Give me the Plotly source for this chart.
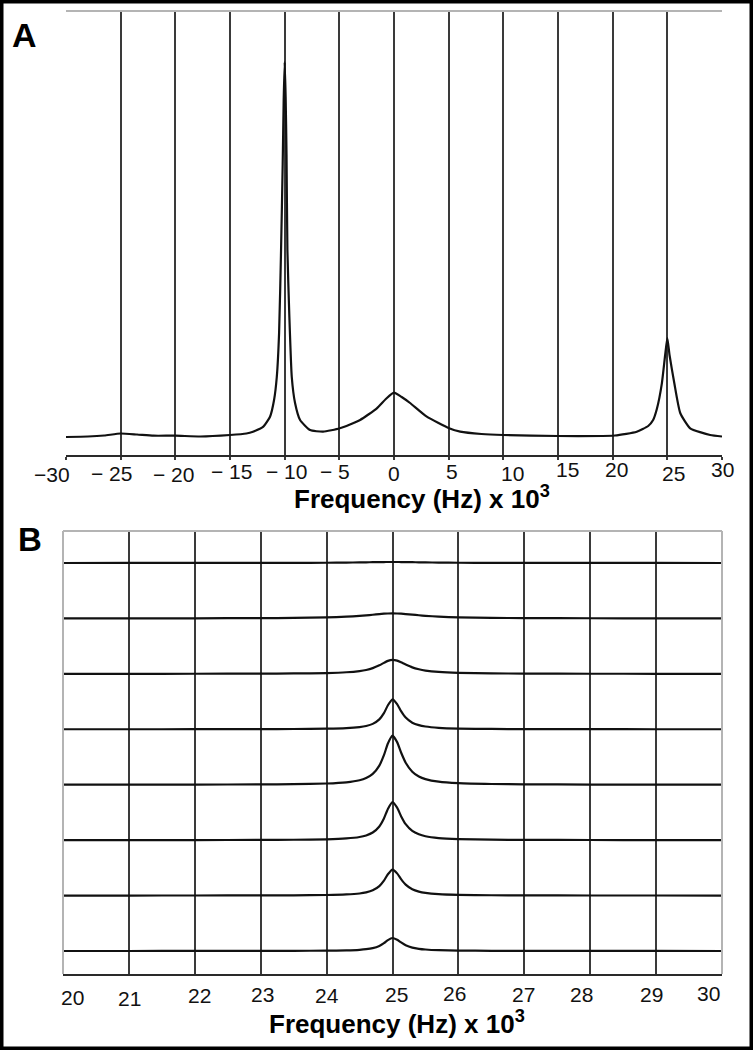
import plotly.graph_objects as go

# ---------------- Panel A: full spectrum ----------------
freq_a = [-30, -28, -26.5, -25, -23.5, -22, -20, -17.7, -15, -13.5, -12.9, -11.95, -11.34,
          -10.97, -10.72, -10.51, -10.33, -10.18, -10.09, -10.0, -9.91, -9.83, -9.75, -9.57,
          -9.35, -9.05, -8.59, -7.68, -6.49, -4.96, -3.1, -1.57, -0.7, 0, 0.7, 1.47, 3.0,
          5.04, 6.05, 8, 10, 15, 20.2, 22.2, 23.25, 23.7, 24.04, 24.5, 24.8, 25, 25.2, 25.64,
          26.18, 27.09, 28.92, 30]
inten_a = [18, 18.5, 19.5, 21.5, 20.5, 19.3, 19.3, 18.5, 20, 21.5, 23.3, 28.3, 38.3,
           55, 78, 122, 205, 291, 355, 393, 358, 300, 205, 138,
           78, 52, 35, 25, 23.3, 26.7, 35, 46.7, 56.5, 62.3, 58, 52, 38.3,
           26.7, 23.3, 21, 20, 19, 19.5, 23.3, 29, 35, 46, 71.7, 100, 117, 100, 71.7,
           42, 26.7, 20, 18.5]

ticks_a = [-30, -25, -20, -15, -10, -5, 0, 5, 10, 15, 20, 25, 30]
ticktext_a = ["\u221230", "\u2212 25", "\u2212 20", "\u2212 15", "\u2212 10", "\u2212 5",
              "0", "5", "10", "15", "20", "25", "30"]

# ---------------- Panel B: zoom on the 25 kHz line, 8 spectra ----------------
freq_b = [20, 21, 22, 23, 23.5, 24, 24.3, 24.5, 24.6, 24.7, 24.8, 24.87, 24.93, 25,
          25.07, 25.13, 25.2, 25.3, 25.4, 25.5, 25.7, 26, 26.5, 27, 28, 29, 30]
spec_b1 = [0.01, 0.02, 0.04, 0.08, 0.14, 0.26, 0.42, 0.59, 0.69, 0.8, 0.9, 0.95, 0.99, 1,
           0.99, 0.95, 0.9, 0.8, 0.69, 0.59, 0.42, 0.26, 0.14, 0.08, 0.04, 0.02, 0.01]
spec_b2 = [0.05, 0.08, 0.14, 0.29, 0.5, 1, 1.7, 2.5, 3.05, 3.7, 4.3, 4.7, 4.9, 5,
           4.9, 4.7, 4.35, 3.8, 3.15, 2.6, 1.8, 1.05, 0.55, 0.32, 0.15, 0.09, 0.06]
spec_b3 = [0.03, 0.05, 0.1, 0.22, 0.38, 0.82, 1.6, 2.8, 3.9, 5.7, 8.5, 11, 13, 14,
           13.2, 11.5, 9.3, 6.5, 4.6, 3.3, 1.9, 1.0, 0.47, 0.27, 0.12, 0.07, 0.04]
spec_b4 = [0.02, 0.03, 0.07, 0.15, 0.26, 0.58, 1.15, 2.2, 3.3, 5.4, 9.9, 16.1, 24, 30,
           25.2, 18.1, 11.7, 6.6, 4.1, 2.8, 1.5, 0.73, 0.33, 0.19, 0.08, 0.05, 0.03]
spec_b5 = [0.05, 0.08, 0.14, 0.31, 0.55, 1.2, 2.4, 4.5, 6.8, 10.8, 19.1, 29.5, 41.2, 49,
           42.6, 32.2, 22, 13, 8.2, 5.6, 3, 1.5, 0.7, 0.4, 0.17, 0.1, 0.06]
spec_b6 = [0.03, 0.05, 0.1, 0.21, 0.38, 0.84, 1.67, 3.1, 4.7, 7.6, 13.7, 21.7, 31.2, 38,
           32.5, 24, 16, 9.2, 5.8, 3.9, 2.1, 1.07, 0.48, 0.27, 0.12, 0.07, 0.04]
spec_b7 = [0.02, 0.03, 0.07, 0.15, 0.26, 0.57, 1.14, 2.1, 3.2, 5.2, 9.4, 14.9, 21.3, 26,
           22.2, 16.4, 10.9, 6.3, 4, 2.7, 1.45, 0.73, 0.33, 0.18, 0.08, 0.05, 0.03]
spec_b8 = [0.01, 0.02, 0.04, 0.08, 0.15, 0.33, 0.65, 1.2, 1.8, 2.9, 5.1, 7.8, 10.9, 13,
           11.3, 8.6, 5.8, 3.4, 2.2, 1.5, 0.8, 0.41, 0.18, 0.1, 0.05, 0.03, 0.02]
spectra_b = [spec_b1, spec_b2, spec_b3, spec_b4, spec_b5, spec_b6, spec_b7, spec_b8]

ticks_b = [20, 21, 22, 23, 24, 25, 26, 27, 28, 29, 30]
ticktext_b = [str(t) for t in ticks_b]

# ---------------- Styling (label placement offsets in pixels, as in the figure) ----------------
W, H = 753, 1050
FONT = "Liberation Sans, Arial, Helvetica, sans-serif"
GRID = "#3a3a3a"
LIGHT = "#b4b4b4"
CURVE = "#111111"
label_dx_a = [-14, -9, -2, 1, 2, -4, 0, 3, 9, 9, 4, 6, 0]
label_y_a = [475, 473, 475, 471, 471, 471, 473, 471, 473, 470, 470, 473, 469]
label_dx_b = [9, 1, 5, 2, 0, 3.5, -4, -1, -9, -5, -14]
label_y_b = [997, 998, 995, 994, 995, 994, 993, 994, 994, 994, 993]


def px_x(p):
    return p / W


def px_y(p):
    return 1 - p / H


fig = go.Figure()

fig.add_trace(go.Scatter(x=freq_a, y=inten_a, mode="lines",
                         line=dict(color=CURVE, width=2.2, shape="spline", smoothing=0.5),
                         xaxis="x", yaxis="y", showlegend=False, hoverinfo="skip"))

n = len(spectra_b)
base0, step = 23, 55.43
for i, spec in enumerate(spectra_b):
    off = base0 + step * (n - 1 - i)
    fig.add_trace(go.Scatter(x=freq_b, y=[v + off for v in spec], mode="lines",
                             line=dict(color=CURVE, width=2.2, shape="spline", smoothing=0.5),
                             xaxis="x2", yaxis="y2", showlegend=False, hoverinfo="skip"))

fig.update_layout(
    width=W, height=H, template="none",
    paper_bgcolor="white", plot_bgcolor="white",
    margin=dict(l=0, r=0, t=0, b=0),
    xaxis=dict(domain=[px_x(66), px_x(722)], range=[-30, 30], anchor="y",
               tickvals=ticks_a, showticklabels=False,
               showgrid=True, gridcolor=GRID, gridwidth=2, zeroline=False,
               showline=True, linecolor="#2a2a2a", linewidth=2,
               ticks="outside", ticklen=3, tickcolor=GRID, tickwidth=2,
               automargin=False, fixedrange=True),
    yaxis=dict(domain=[px_y(455), px_y(11)], range=[0, 444], anchor="x",
               visible=False, showgrid=False, zeroline=False, automargin=False),
    xaxis2=dict(domain=[px_x(63), px_x(722)], range=[20, 30], anchor="y2",
                tickvals=ticks_b, showticklabels=False,
                showgrid=False, zeroline=False,
                minor=dict(tickvals=ticks_b[1:-1], showgrid=True, gridcolor=GRID,
                           gridwidth=2, ticks=""),
                showline=True, linecolor="#2a2a2a", linewidth=2,
                ticks="", automargin=False, fixedrange=True),
    yaxis2=dict(domain=[px_y(974), px_y(531)], range=[0, 443], anchor="x2",
                visible=False, showgrid=False, zeroline=False, automargin=False),
)

shapes = [
    dict(type="line", xref="x domain", yref="y domain", x0=0, x1=1, y0=1, y1=1,
         line=dict(color=LIGHT, width=2)),
    dict(type="line", xref="x2 domain", yref="y2 domain", x0=0, x1=1, y0=1, y1=1,
         line=dict(color=LIGHT, width=2)),
    dict(type="line", xref="x2 domain", yref="y2 domain", x0=0, x1=0, y0=0, y1=1,
         line=dict(color=LIGHT, width=2)),
    dict(type="line", xref="x2 domain", yref="y2 domain", x0=1, x1=1, y0=0, y1=1,
         line=dict(color=LIGHT, width=2)),
    dict(type="rect", xref="paper", yref="paper", x0=px_x(1.5), x1=px_x(W - 1.5),
         y0=px_y(H - 1.5), y1=px_y(1.5), line=dict(color="black", width=4),
         fillcolor="rgba(0,0,0,0)"),
]
fig.update_layout(shapes=shapes)

tick_font = dict(family=FONT, size=21, color="#111111")
annotations = []
for t, txt, dx, yc in zip(ticks_a, ticktext_a, label_dx_a, label_y_a):
    annotations.append(dict(text=txt, x=t, xref="x", y=px_y(yc), yref="paper",
                            xshift=dx, showarrow=False, xanchor="center",
                            yanchor="middle", font=tick_font))
for t, txt, dx, yc in zip(ticks_b, ticktext_b, label_dx_b, label_y_b):
    annotations.append(dict(text=txt, x=t, xref="x2", y=px_y(yc), yref="paper",
                            xshift=dx, showarrow=False, xanchor="center",
                            yanchor="middle", font=tick_font))

title_txt = "<b>Frequency (Hz) x 10<sup>3</sup></b>"
annotations += [
    dict(text="<b>A</b>", x=px_x(24), y=px_y(35), xref="paper", yref="paper",
         showarrow=False, xanchor="center", yanchor="middle",
         font=dict(family=FONT, size=34, color="black")),
    dict(text="<b>B</b>", x=px_x(30), y=px_y(539), xref="paper", yref="paper",
         showarrow=False, xanchor="center", yanchor="middle",
         font=dict(family=FONT, size=33, color="black")),
    dict(text=title_txt, x=px_x(422), y=px_y(497), xref="paper", yref="paper",
         showarrow=False, xanchor="center", yanchor="middle",
         font=dict(family=FONT, size=26, color="black")),
    dict(text=title_txt, x=px_x(397), y=px_y(1022), xref="paper", yref="paper",
         showarrow=False, xanchor="center", yanchor="middle",
         font=dict(family=FONT, size=26, color="black")),
]
fig.update_layout(annotations=annotations)

fig.write_html("out.html", config={"displayModeBar": False, "staticPlot": True},
               post_script="document.body.style.margin='0px';document.body.style.overflow='hidden';")
